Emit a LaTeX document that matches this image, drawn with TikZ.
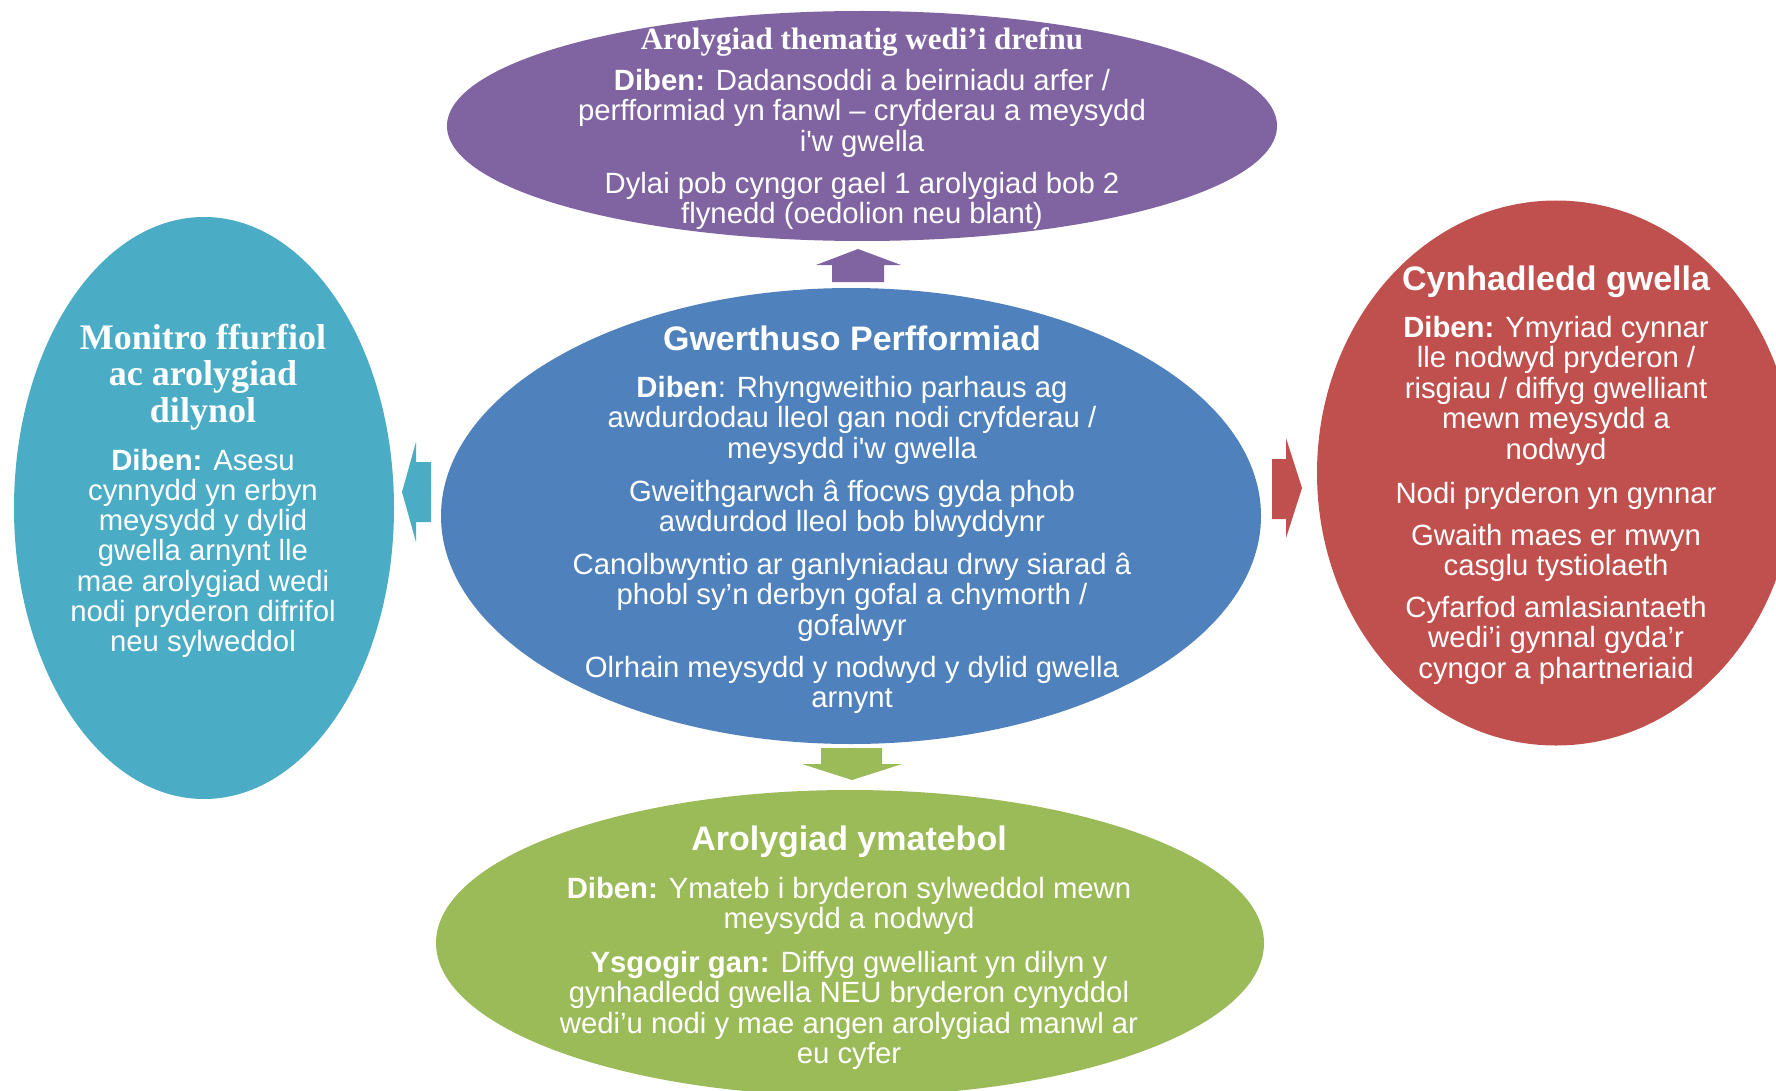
\documentclass[tikz,border=0pt]{standalone}
\usepackage{fontspec}
\setmainfont{Liberation Sans}[Ligatures=TeXOff]
\newfontfamily\titleserif{Liberation Serif}[Ligatures=TeXOff]
\usetikzlibrary{shapes.geometric}
\definecolor{cpurple}{HTML}{8064A2}
\definecolor{cblue}{HTML}{4F81BD}
\definecolor{cteal}{HTML}{4BACC6}
\definecolor{cred}{HTML}{C0504D}
\definecolor{cgreen}{HTML}{9BBB59}
\newcommand\bst{\rule{0pt}{27pt}}
\newcommand\tst{\rule{0pt}{32pt}}
\newcommand\sst{\rule{0pt}{34pt}}
\newcommand\tsst{\rule{0pt}{29pt}}
\tikzset{
  blob/.style={ellipse, inner sep=0pt, draw=none},
  para/.style={text=white, align=center, anchor=north, inner sep=0pt, font=\fontsize{29.3}{30.5}\selectfont},
  lpara/.style={para, font=\fontsize{29.3}{30.2}\selectfont},
  ttl/.style={text=white, align=center, anchor=north, inner sep=0pt, font=\fontsize{34}{40}\selectfont\bfseries},
  sttl/.style={text=white, align=center, anchor=north, inner sep=0pt, font=\fontsize{36}{36.5}\selectfont\titleserif\bfseries},
  tsttl/.style={text=white, align=center, anchor=north, inner sep=0pt, font=\fontsize{31}{34}\selectfont\titleserif\bfseries}
}
\begin{document}
\begin{tikzpicture}[x=1pt, y=-1pt]
\useasboundingbox (0,0) rectangle (1776,1091);
\clip (0,0) rectangle (1776,1091);
\fill[white] (0,0) rectangle (1776,1091);

% ellipses
\node[blob, fill=cpurple, minimum width=830pt, minimum height=230pt] (top) at (862,126) {};
\node[blob, fill=cblue, minimum width=820pt, minimum height=456pt] (mid) at (851,516) {};
\node[blob, fill=cteal, minimum width=380pt, minimum height=582pt] (left) at (204,508) {};
\node[blob, fill=cred, minimum width=478pt, minimum height=545pt] (right) at (1556,473) {};
\node[blob, fill=cgreen, minimum width=828pt, minimum height=306pt] (bot) at (850,943) {};

% block arrows
\fill[cpurple] (858,249) -- (901,265) -- (884,265) -- (884,282) -- (832,282) -- (832,265) -- (816,265) -- cycle;
\fill[cgreen] (821,748) -- (882,748) -- (882,764) -- (902,764) -- (852,780) -- (802,764) -- (821,764) -- cycle;
\fill[cteal] (402,492) -- (416,442) -- (416,462) -- (431,462) -- (431,522) -- (416,522) -- (416,542) -- cycle;
\fill[cred] (1302,488) -- (1286,538) -- (1286,519) -- (1272,519) -- (1272,459) -- (1286,459) -- (1286,438) -- cycle;

% top texts
\node[tsttl] (topT) at (862,20) {\tsst Arolygiad thematig wedi’i drefnu};
\node[para] (topA) at (862,63) {\bst\textbf{Diben:} Dadansoddi a beirniadu arfer /\\perfformiad yn fanwl – cryfderau a meysydd\\i'w gwella};
\node[para] (topB) at (862,166) {\bst Dylai pob cyngor gael 1 arolygiad bob 2\\flynedd (oedolion neu blant)};

% centre texts
\node[ttl] (midT) at (852,318) {\tst Gwerthuso Perfformiad};
\node[para] (midA) at (852,370) {\bst\textbf{Diben}: Rhyngweithio parhaus ag\\awdurdodau lleol gan nodi cryfderau /\\meysydd i'w gwella};
\node[para] (midB) at (852,474) {\bst Gweithgarwch â ffocws gyda phob\\awdurdod lleol bob blwyddynr};
\node[para] (midC) at (852,547) {\bst Canolbwyntio ar ganlyniadau drwy siarad â\\phobl sy’n derbyn gofal a chymorth /\\gofalwyr};
\node[para] (midD) at (852,650) {\bst Olrhain meysydd y nodwyd y dylid gwella\\arnynt};

% left texts
\node[sttl] (leftT) at (203,315) {\sst Monitro ffurfiol\\ac arolygiad\\dilynol};
\node[lpara] (leftA) at (203,443) {\bst\textbf{Diben:} Asesu\\cynnydd yn erbyn\\meysydd y dylid\\gwella arnynt lle\\mae arolygiad wedi\\nodi pryderon difrifol\\neu sylweddol};

% right texts
\node[ttl] (rightT) at (1556,258) {\tst Cynhadledd gwella};
\node[para] (rightA) at (1556,310) {\bst\textbf{Diben:} Ymyriad cynnar\\lle nodwyd pryderon /\\risgiau / diffyg gwelliant\\mewn meysydd a\\nodwyd};
\node[para] (rightB) at (1556,476) {\bst Nodi pryderon yn gynnar};
\node[para] (rightC) at (1556,518) {\bst Gwaith maes er mwyn\\casglu tystiolaeth};
\node[para] (rightD) at (1556,590) {\bst Cyfarfod amlasiantaeth\\wedi’i gynnal gyda’r\\cyngor a phartneriaid};

% bottom texts
\node[ttl] (botT) at (849,818) {\tst Arolygiad ymatebol};
\node[para] (botA) at (849,871) {\bst\textbf{Diben:} Ymateb i bryderon sylweddol mewn\\meysydd a nodwyd};
\node[para] (botB) at (849,945) {\bst\textbf{Ysgogir gan:} Diffyg gwelliant yn dilyn y\\gynhadledd gwella NEU bryderon cynyddol\\wedi’u nodi y mae angen arolygiad manwl ar\\eu cyfer};
\end{tikzpicture}
\end{document}
